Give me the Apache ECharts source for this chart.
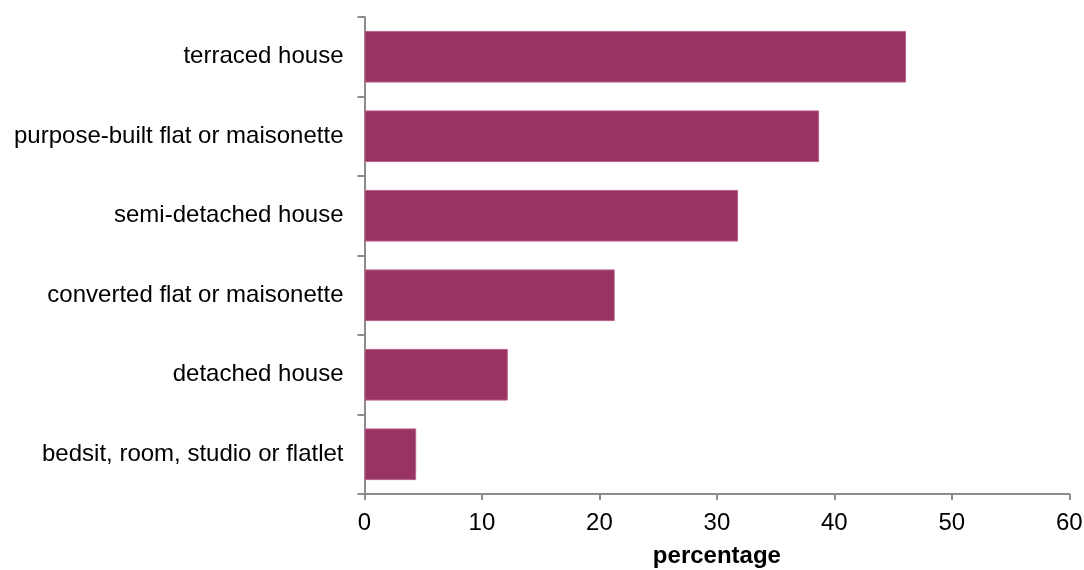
<!DOCTYPE html>
<html><head><meta charset="utf-8">
<script src="https://cdn.jsdelivr.net/npm/echarts@6/dist/echarts.min.js"></script>
<style>html,body{margin:0;padding:0;background:#fff}#c{width:1084px;height:570px}</style>
</head><body><div id="c"></div>
<script>
var categories = ["bedsit, room, studio or flatlet","detached house","converted flat or maisonette","semi-detached house","purpose-built flat or maisonette","terraced house"];
var values = [4.4, 12.2, 21.3, 31.8, 38.7, 46.1];
var xTicks = [0, 10, 20, 30, 40, 50, 60];
var chart = echarts.init(document.getElementById('c'), null, {renderer:'canvas'});
var axisColor = '#8c8c8c';
chart.setOption({
  animation:false,
  backgroundColor:'#ffffff',
  grid:{left:364.5, right:14.7, top:17, bottom:76, containLabel:false, outerBoundsMode:'none'},
  xAxis:{type:'value', min:xTicks[0], max:xTicks[xTicks.length-1], interval:10,
    name:'percentage', nameLocation:'middle', nameGap:50,
    nameTextStyle:{fontFamily:'Liberation Sans', fontSize:24, fontWeight:'bold', color:'#000'},
    axisLine:{show:true, lineStyle:{color:axisColor, width:2}},
    axisTick:{show:true, length:6, lineStyle:{color:axisColor, width:2}},
    splitLine:{show:false},
    axisLabel:{fontFamily:'Liberation Sans', fontSize:24, color:'#000', margin:17}
  },
  yAxis:{type:'category', data:categories,
    axisLine:{show:true, lineStyle:{color:axisColor, width:2}},
    axisTick:{show:true, length:7, alignWithLabel:false, lineStyle:{color:axisColor, width:2}},
    axisLabel:{fontFamily:'Liberation Sans', fontSize:24, color:'#000', margin:21}
  },
  series:[{type:'bar', data:values, barCategoryGap:'35%',
    itemStyle:{color:'#993462', borderColor:'#b9618c', borderWidth:1}
  }]
});
</script></body></html>
